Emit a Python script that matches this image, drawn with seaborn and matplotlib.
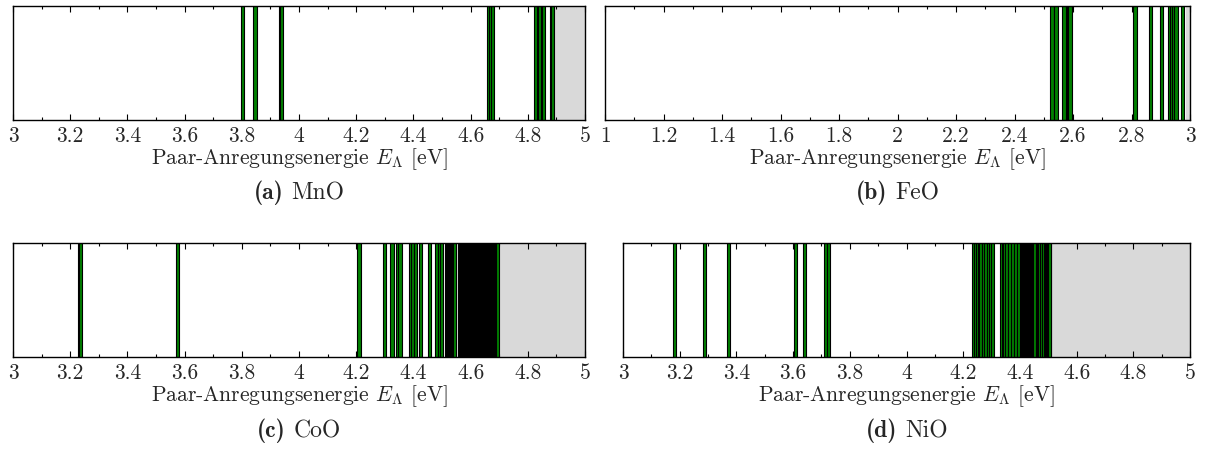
import numpy as np
import matplotlib
matplotlib.use("Agg")
import matplotlib.pyplot as plt
from matplotlib.ticker import MultipleLocator, FixedLocator, FixedFormatter
import seaborn as sns

# ---------------- data ----------------
mno_E = [3.803, 3.846, 3.934, 3.938, 4.664, 4.671, 4.678,
         4.827, 4.840, 4.856, 4.882, 4.887]
feo_E = [2.528, 2.542, 2.569, 2.584, 2.590, 2.812, 2.866, 2.902,
         2.930, 2.937, 2.945, 2.952, 2.975]
coo_E = [3.232, 3.236, 3.576, 4.210, 4.300, 4.325, 4.345, 4.353,
         4.390, 4.398, 4.407, 4.425, 4.455, 4.480, 4.490, 4.498,
         4.515, 4.518, 4.522, 4.526, 4.530, 4.534, 4.538, 4.542, 4.545,
         4.561, 4.563, 4.565, 4.568, 4.570, 4.573, 4.575, 4.578,
         4.580, 4.583, 4.585, 4.588, 4.590, 4.593, 4.595, 4.598,
         4.600, 4.603, 4.605, 4.608, 4.610, 4.613, 4.615, 4.618,
         4.620, 4.623, 4.625, 4.628, 4.630, 4.633, 4.635, 4.638,
         4.640, 4.643, 4.645, 4.648, 4.650, 4.653, 4.655, 4.658,
         4.660, 4.663, 4.665, 4.668, 4.670, 4.673, 4.675, 4.678,
         4.680, 4.683, 4.685, 4.688, 4.690, 4.693]
nio_E = [3.183, 3.286, 3.373, 3.610, 3.640, 3.715, 3.725,
         4.236, 4.242, 4.250, 4.256, 4.262, 4.271, 4.280, 4.290,
         4.298, 4.303, 4.336, 4.341, 4.347, 4.353, 4.365, 4.375,
         4.383, 4.395, 4.406, 4.410, 4.414, 4.418, 4.421, 4.424,
         4.427, 4.430, 4.433, 4.436, 4.439, 4.441, 4.444, 4.447,
         4.450, 4.453, 4.464, 4.467, 4.470, 4.475, 4.478, 4.482,
         4.485, 4.489, 4.493, 4.497, 4.500, 4.503, 4.505]

gray_start = [4.893, 2.988, 4.700, 4.510]
xranges = [(3, 5), (1, 3), (3, 5), (3, 5)]
major_ticks = [
    [3, 3.2, 3.4, 3.6, 3.8, 4, 4.2, 4.4, 4.6, 4.8, 5],
    [1, 1.2, 1.4, 1.6, 1.8, 2, 2.2, 2.4, 2.6, 2.8, 3],
    [3, 3.2, 3.4, 3.6, 3.8, 4, 4.2, 4.4, 4.6, 4.8, 5],
    [3, 3.2, 3.4, 3.6, 3.8, 4, 4.2, 4.4, 4.6, 4.8, 5],
]
tick_labels = [
    ["3", "3.2", "3.4", "3.6", "3.8", "4", "4.2", "4.4", "4.6", "4.8", "5"],
    ["1", "1.2", "1.4", "1.6", "1.8", "2", "2.2", "2.4", "2.6", "2.8", "3"],
    ["3", "3.2", "3.4", "3.6", "3.8", "4", "4.2", "4.4", "4.6", "4.8", "5"],
    ["3", "3.2", "3.4", "3.6", "3.8", "4", "4.2", "4.4", "4.6", "4.8", "5"],
]
panel_letters = ["(a)", "(b)", "(c)", "(d)"]
materials = ["MnO", "FeO", "CoO", "NiO"]
xlabel = r"Paar-Anregungsenergie $E_\Lambda$ [eV]"

# ---------------- style ----------------
sns.set_theme(style="ticks")
plt.rcParams["font.family"] = ["cmr10", "DejaVu Serif"]
plt.rcParams["mathtext.fontset"] = "cm"
plt.rcParams["axes.formatter.use_mathtext"] = True
plt.rcParams["axes.unicode_minus"] = False

FS = 15.5
CFS = 17
fig = plt.figure(figsize=(12.05, 4.5), dpi=100)
W, H = 1205.0, 450.0
boxes = [(13, 6, 585, 120), (605, 6, 1190, 120),
         (13, 243, 585, 357), (623, 243, 1190, 357)]
caption_y = [193, 193, 431, 431]

datasets = [mno_E, feo_E, coo_E, nio_E]
green = "#008000"
renderer = fig.canvas.get_renderer()
for i, (E, box) in enumerate(zip(datasets, boxes)):
    l, t, r, b = box
    ax = fig.add_axes([l / W, 1 - b / H, (r - l) / W, (b - t) / H])
    ax.axvspan(gray_start[i], xranges[i][1], color="#d9d9d9", zorder=0.5, lw=0)
    ax.bar(E, [1.0] * len(E), width=0.011, color=green, edgecolor="black",
           linewidth=0.8, align="center", zorder=1)
    ax.set_xlim(*xranges[i])
    ax.set_ylim(0, 1)
    ax.set_yticks([])
    ax.xaxis.set_major_locator(FixedLocator(major_ticks[i]))
    ax.xaxis.set_major_formatter(FixedFormatter(tick_labels[i]))
    ax.xaxis.set_minor_locator(MultipleLocator(0.1))
    ax.tick_params(axis="x", which="both", direction="in", top=True, bottom=True,
                   labelsize=FS, pad=5, color="black")
    ax.tick_params(axis="x", which="major", length=4, width=0.8)
    ax.tick_params(axis="x", which="minor", length=2.2, width=0.8)
    for s in ax.spines.values():
        s.set_linewidth(1.0)
        s.set_color("black")
    ax.set_xlabel(xlabel, fontsize=FS, labelpad=0)

    # caption: bold letter + material, centred together
    cy = 1 - caption_y[i] / H
    t1 = fig.text(0, cy, panel_letters[i], family="cmb10", fontsize=CFS,
                  ha="left", va="center")
    t2 = fig.text(0, cy, materials[i], family="cmr10", fontsize=CFS,
                  ha="left", va="center")
    w1 = t1.get_window_extent(renderer).width
    w2 = t2.get_window_extent(renderer).width
    gap = 8.0
    total = w1 + gap + w2
    x0 = (l + r) / 2 - total / 2
    t1.set_x(x0 / W)
    t2.set_x((x0 + w1 + gap) / W)

fig.savefig("out.png", dpi=100)
